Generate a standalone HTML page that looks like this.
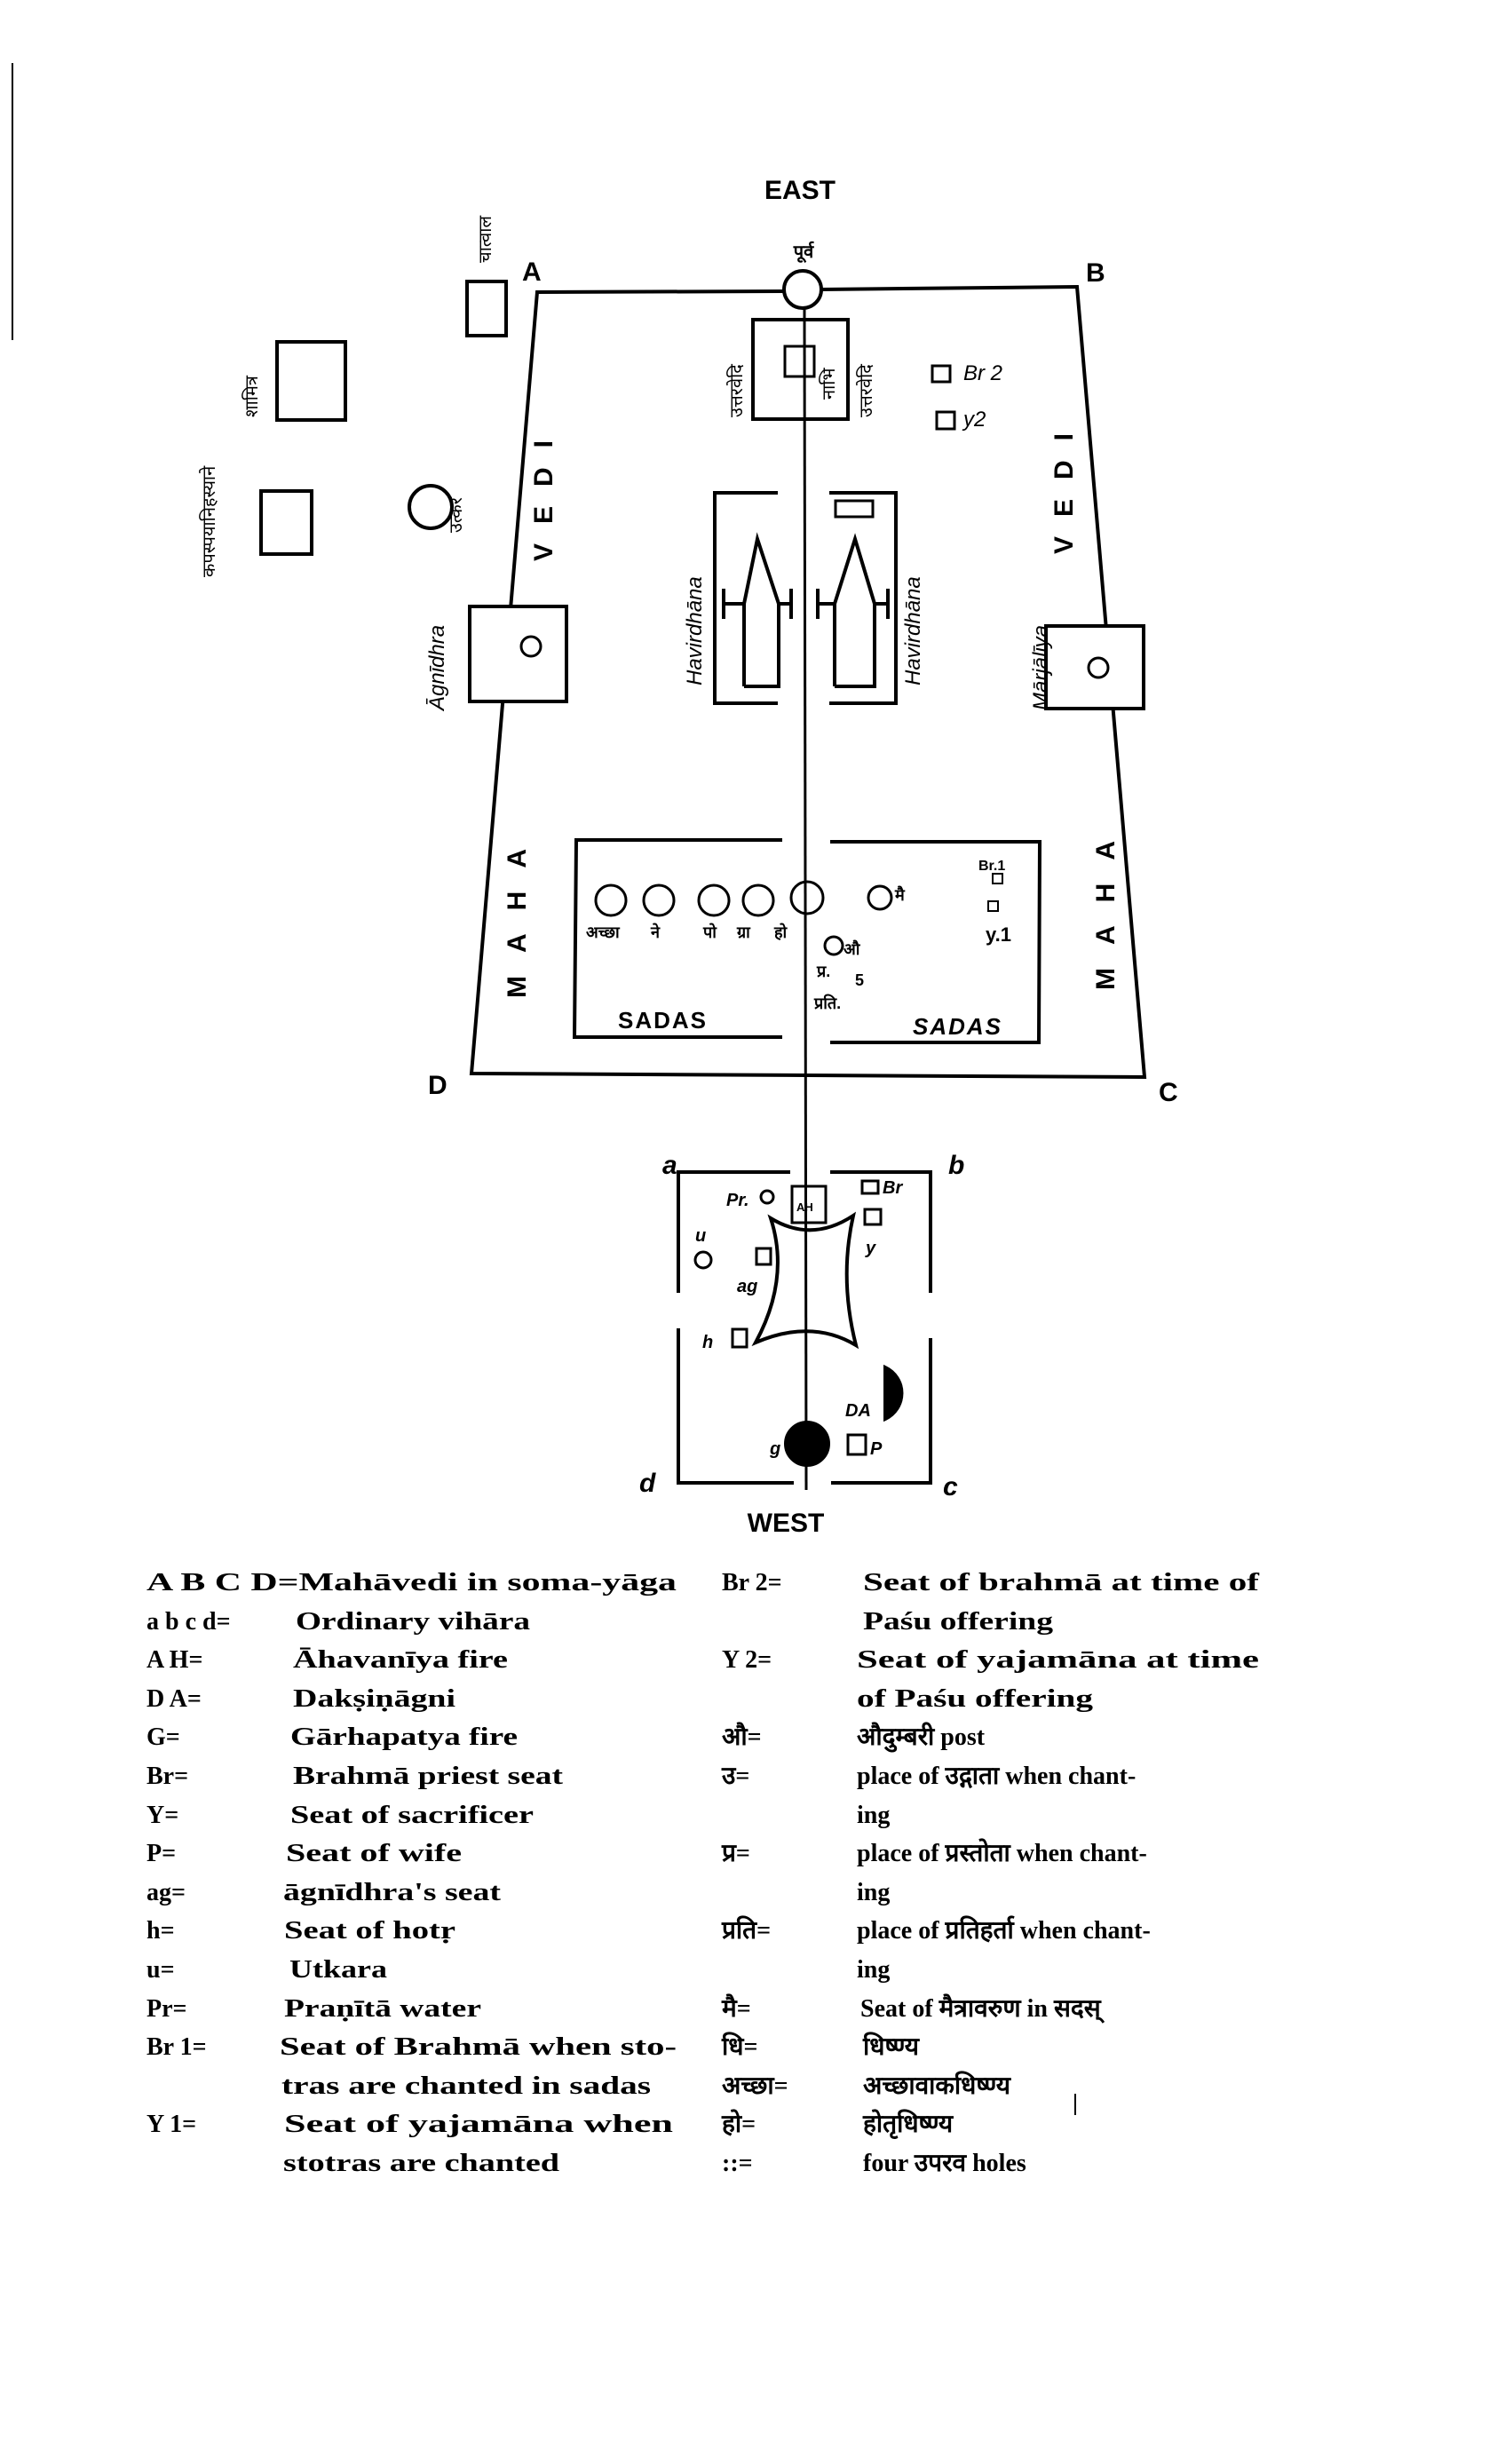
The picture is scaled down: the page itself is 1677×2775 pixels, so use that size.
<!DOCTYPE html>
<html><head><meta charset="utf-8"><style>
html,body{margin:0;padding:0;background:#fff;}
svg{display:block}
text{font-family:"Liberation Sans","DejaVu Sans",sans-serif;fill:#000}
.lg text{font-family:"Liberation Serif","DejaVu Serif",serif;font-size:28px;font-weight:bold}
.hd{font-size:30px;font-weight:bold}
.sm{font-size:20px;font-weight:bold}
</style></head><body>
<svg width="1677" height="2775" viewBox="0 0 1677 2775" xmlns="http://www.w3.org/2000/svg">
<g stroke="#000" stroke-width="4" fill="none">
<line x1="14" y1="71" x2="14" y2="383" stroke-width="2"/>
<polyline points="885,328 605,329 531,1209 908,1211"/>
<polyline points="924,326 1213,323 1289,1213 908,1211"/>
<circle cx="904" cy="326" r="21"/>
<line x1="906" y1="347" x2="908" y2="1678" stroke-width="3"/>
<rect x="848" y="360" width="107" height="112"/>
<rect x="884" y="390" width="33" height="34" stroke-width="3"/>
<polyline points="876,555 805,555 805,792 876,792"/>
<polyline points="934,555 1009,555 1009,792 934,792"/>
<polyline points="838,773 838,680 853,607 877,680 877,773 838,773"/>
<polyline points="940,773 940,680 963,607 985,680 985,773 940,773"/>
<line x1="815" y1="680" x2="838" y2="680"/><line x1="877" y1="680" x2="891" y2="680"/>
<line x1="815" y1="663" x2="815" y2="697"/><line x1="891" y1="663" x2="891" y2="697"/>
<line x1="921" y1="680" x2="940" y2="680"/><line x1="985" y1="680" x2="1000" y2="680"/>
<line x1="921" y1="663" x2="921" y2="697"/><line x1="1000" y1="663" x2="1000" y2="697"/>
<rect x="941" y="564" width="42" height="18" stroke-width="3"/>
<rect x="529" y="683" width="109" height="107" fill="#fff"/>
<circle cx="598" cy="728" r="11" stroke-width="3"/>
<rect x="1178" y="705" width="110" height="93" fill="#fff"/>
<circle cx="1237" cy="752" r="11" stroke-width="3"/>
<rect x="1050" y="412" width="20" height="18" stroke-width="3"/>
<rect x="1055" y="464" width="20" height="19" stroke-width="3"/>
<rect x="526" y="317" width="44" height="61"/>
<rect x="312" y="385" width="77" height="88"/>
<rect x="294" y="553" width="57" height="71"/>
<circle cx="485" cy="571" r="24"/>
<polyline points="881,946 649,946 647,1168 881,1168"/>
<polyline points="935,948 1171,948 1170,1174 935,1174"/>
<circle cx="688" cy="1014" r="17" stroke-width="3"/>
<circle cx="742" cy="1014" r="17" stroke-width="3"/>
<circle cx="804" cy="1014" r="17" stroke-width="3"/>
<circle cx="854" cy="1014" r="17" stroke-width="3"/>
<circle cx="909" cy="1011" r="18" stroke-width="3"/>
<circle cx="991" cy="1011" r="13" stroke-width="3"/>
<circle cx="939" cy="1065" r="10" stroke-width="3"/>
<rect x="1118" y="984" width="11" height="11" stroke-width="2"/>
<rect x="1113" y="1015" width="11" height="11" stroke-width="2"/>
<polyline points="890,1320 764,1320 764,1456"/>
<polyline points="764,1496 764,1670 894,1670"/>
<polyline points="935,1320 1048,1320 1048,1456"/>
<polyline points="1048,1507 1048,1670 936,1670"/>
<path d="M868,1372 Q914,1400 961,1369 Q945,1440 964,1515 Q914,1485 851,1512 Q890,1440 868,1372Z"/>
<rect x="892" y="1336" width="38" height="41" stroke-width="3"/>
<circle cx="864" cy="1348" r="7" stroke-width="3"/>
<rect x="971" y="1330" width="18" height="14" stroke-width="3"/>
<rect x="974" y="1362" width="18" height="17" stroke-width="3"/>
<circle cx="792" cy="1419" r="9" stroke-width="3"/>
<rect x="852" y="1406" width="16" height="18" stroke-width="3"/>
<rect x="825" y="1497" width="16" height="20" stroke-width="3"/>
<rect x="955" y="1616" width="20" height="22" stroke-width="3"/>
<circle cx="909" cy="1626" r="24" fill="#000"/>
<path d="M997,1540 A32,32 0 0 1 997,1598 Z" fill="#000"/>
</g>
<text class="hd" x="901" y="224" text-anchor="middle">EAST</text>
<text class="sm" x="905" y="290" text-anchor="middle">पूर्व</text>
<text class="hd" x="588" y="316">A</text>
<text class="hd" x="1223" y="317">B</text>
<text class="hd" x="482" y="1232">D</text>
<text class="hd" x="1305" y="1240">C</text>
<text class="hd" x="885" y="1725" text-anchor="middle">WEST</text>
<text class="hd" x="746" y="1322" font-style="italic">a</text>
<text class="hd" x="1068" y="1322" font-style="italic">b</text>
<text class="hd" x="720" y="1680" font-style="italic">d</text>
<text class="hd" x="1062" y="1684" font-style="italic">c</text>
<g font-size="30" font-weight="bold">
<text transform="translate(622,632) rotate(-90)" letter-spacing="22">VEDI</text>
<text transform="translate(1208,624) rotate(-90)" letter-spacing="22">VEDI</text>
<text transform="translate(592,1124) rotate(-90)" letter-spacing="26">MAHA</text>
<text transform="translate(1255,1115) rotate(-90)" letter-spacing="26">MAHA</text>
</g>
<g font-size="24" font-style="italic">
<text transform="translate(790,772) rotate(-90)">Havirdhāna</text>
<text transform="translate(1036,772) rotate(-90)">Havirdhāna</text>
<text transform="translate(500,800) rotate(-90)">Āgnīdhra</text>
<text transform="translate(1180,800) rotate(-90)">Mārjālīya</text>
</g>
<g font-size="20">
<text transform="translate(553,296) rotate(-90)">चात्वाल</text>
<text transform="translate(290,470) rotate(-90)">शामित्र</text>
<text transform="translate(242,650) rotate(-90)">कपस्पयानिहस्याने</text>
<text transform="translate(520,600) rotate(-90)">उत्कर</text>
<text transform="translate(836,470) rotate(-90)">उत्तरवेदि</text>
<text transform="translate(982,470) rotate(-90)">उत्तरवेदि</text>
<text transform="translate(940,450) rotate(-90)">नाभि</text>
</g>
<text x="1085" y="428" font-size="24" font-style="italic">Br 2</text>
<text x="1085" y="480" font-size="24" font-style="italic">y2</text>
<text x="696" y="1158" font-size="26" font-weight="bold" letter-spacing="2">SADAS</text>
<text x="1028" y="1165" font-size="26" font-weight="bold" font-style="italic" letter-spacing="2">SADAS</text>
<text x="1102" y="980" font-size="16" font-weight="bold">Br.1</text>
<text x="1110" y="1060" font-size="22" font-weight="bold">y.1</text>
<g font-size="18" font-weight="bold">
<text x="660" y="1056">अच्छा</text><text x="733" y="1056">ने</text><text x="792" y="1056">पो</text><text x="830" y="1056">ग्रा</text><text x="872" y="1056">हो</text>
<text x="1008" y="1014">मै</text><text x="950" y="1075">औ</text><text x="920" y="1100">प्र.</text><text x="963" y="1110">5</text><text x="917" y="1136">प्रति.</text>
</g>
<g font-size="20" font-weight="bold" font-style="italic">
<text x="818" y="1358">Pr.</text>
<text x="994" y="1344">Br</text>
<text x="975" y="1412">y</text>
<text x="783" y="1398">u</text>
<text x="830" y="1455">ag</text>
<text x="791" y="1518">h</text>
<text x="952" y="1595">DA</text>
<text x="867" y="1638">g</text>
<text x="980" y="1638">P</text>
<text x="897" y="1364" font-size="13" font-style="normal">AH</text>
</g>
<g class="lg">
<text x="165" y="1791" textLength="597" lengthAdjust="spacingAndGlyphs">A B C D=Mahāvedi in soma-yāga</text>
<text x="165" y="1835">a b c d=</text><text x="333" y="1835" textLength="264" lengthAdjust="spacingAndGlyphs">Ordinary vihāra</text>
<text x="165" y="1878">A H=</text><text x="330" y="1878" textLength="242" lengthAdjust="spacingAndGlyphs">Āhavanīya fire</text>
<text x="165" y="1922">D A=</text><text x="330" y="1922" textLength="183" lengthAdjust="spacingAndGlyphs">Dakṣiṇāgni</text>
<text x="165" y="1965">G=</text><text x="327" y="1965" textLength="256" lengthAdjust="spacingAndGlyphs">Gārhapatya fire</text>
<text x="165" y="2009">Br=</text><text x="330" y="2009" textLength="304" lengthAdjust="spacingAndGlyphs">Brahmā priest seat</text>
<text x="165" y="2053">Y=</text><text x="327" y="2053" textLength="274" lengthAdjust="spacingAndGlyphs">Seat of sacrificer</text>
<text x="165" y="2096">P=</text><text x="322" y="2096" textLength="198" lengthAdjust="spacingAndGlyphs">Seat of wife</text>
<text x="165" y="2140">ag=</text><text x="319" y="2140" textLength="245" lengthAdjust="spacingAndGlyphs">āgnīdhra's seat</text>
<text x="165" y="2183">h=</text><text x="320" y="2183" textLength="193" lengthAdjust="spacingAndGlyphs">Seat of hotṛ</text>
<text x="165" y="2227">u=</text><text x="326" y="2227" textLength="110" lengthAdjust="spacingAndGlyphs">Utkara</text>
<text x="165" y="2271">Pr=</text><text x="320" y="2271" textLength="222" lengthAdjust="spacingAndGlyphs">Praṇītā water</text>
<text x="165" y="2314">Br 1=</text><text x="315" y="2314" textLength="447" lengthAdjust="spacingAndGlyphs">Seat of Brahmā when sto-</text>
<text x="317" y="2358" textLength="416" lengthAdjust="spacingAndGlyphs">tras are chanted in sadas</text>
<text x="165" y="2401">Y 1=</text><text x="320" y="2401" textLength="438" lengthAdjust="spacingAndGlyphs">Seat of yajamāna when</text>
<text x="319" y="2445" textLength="311" lengthAdjust="spacingAndGlyphs">stotras are chanted</text>

<text x="813" y="1791">Br 2=</text><text x="972" y="1791" textLength="446" lengthAdjust="spacingAndGlyphs">Seat of brahmā at time of</text>
<text x="972" y="1835" textLength="214" lengthAdjust="spacingAndGlyphs">Paśu offering</text>
<text x="813" y="1878">Y 2=</text><text x="965" y="1878" textLength="453" lengthAdjust="spacingAndGlyphs">Seat of yajamāna at time</text>
<text x="965" y="1922" textLength="266" lengthAdjust="spacingAndGlyphs">of Paśu offering</text>
<text x="813" y="1965">औ=</text><text x="965" y="1965">औदुम्बरी post</text>
<text x="813" y="2009">उ=</text><text x="965" y="2009">place of उद्गाता when chant-</text>
<text x="965" y="2053">ing</text>
<text x="813" y="2096">प्र=</text><text x="965" y="2096">place of प्रस्तोता when chant-</text>
<text x="965" y="2140">ing</text>
<text x="813" y="2183">प्रति=</text><text x="965" y="2183">place of प्रतिहर्ता when chant-</text>
<text x="965" y="2227">ing</text>
<text x="813" y="2271">मै=</text><text x="969" y="2271">Seat of मैत्रावरुण in सदस्</text>
<text x="813" y="2314">धि=</text><text x="972" y="2314">धिष्ण्य</text>
<text x="813" y="2358">अच्छा=</text><text x="972" y="2358">अच्छावाकधिष्ण्य</text>
<text x="813" y="2401">हो=</text><text x="972" y="2401">होतृधिष्ण्य</text>
<text x="813" y="2445">::=</text><text x="972" y="2445">four उपरव holes</text>
</g>
<line x1="1211" y1="2358" x2="1211" y2="2382" stroke="#000" stroke-width="2"/>
</svg>
</body></html>
